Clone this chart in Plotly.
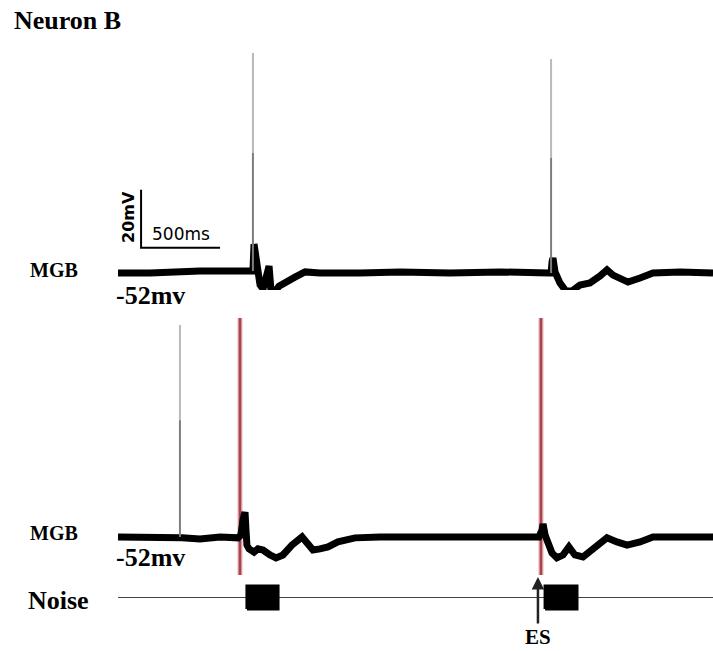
import plotly.graph_objects as go

# ---------------- data (time in ms, membrane potential in mV) ----------------
top_time_ms = [0, 203, 519, 772, 835, 848, 854, 861, 880, 899, 918, 937, 956, 968, 987,
               1019, 1063, 1120, 1184, 1278, 1532, 1785, 2101, 2418, 2728, 2741, 2747,
               2753, 2766, 2797, 2835, 2873, 2924, 2987, 3051, 3095, 3133, 3177, 3228,
               3304, 3386, 3557, 3766]
top_mv = [-52.2, -52.2, -51.5, -51.1, -51.5, -51.5, -51.5, -42.2, -48.4, -56.3, -57.7,
          -52.9, -49.8, -58.0, -59.1, -56.7, -55.6, -53.6, -51.8, -52.2, -52.2, -51.8,
          -52.2, -51.8, -52.2, -52.2, -48.4, -47.0, -51.8, -55.6, -58.4, -58.4, -56.3,
          -55.6, -53.2, -51.1, -52.9, -54.2, -55.3, -53.9, -52.2, -51.8, -52.2]
top_spike_time_ms = [854, 2741]
top_spike_base_mv = [-51.5, -52.2]
top_spike_split_mv = [-10.8, -12.5]
top_spike_peak_mv = [23.7, 21.6]

bottom_time_ms = [0, 203, 386, 392, 405, 519, 646, 759, 778, 791, 804, 810, 816, 829,
                  861, 886, 918, 962, 1000, 1044, 1101, 1165, 1196, 1234, 1278, 1329,
                  1392, 1500, 1658, 1911, 2291, 2664, 2684, 2690, 2703, 2722, 2747, 2778,
                  2816, 2854, 2892, 2943, 3006, 3051, 3095, 3158, 3222, 3304, 3386, 3494,
                  3766]
bottom_mv = [-52.0, -52.0, -52.0, -52.0, -52.3, -52.7, -52.0, -52.3, -51.3, -46.1,
             -43.4, -49.6, -54.8, -56.1, -57.2, -56.1, -56.5, -58.2, -59.2, -58.2,
             -54.8, -52.0, -53.7, -56.5, -56.1, -55.4, -53.7, -52.3, -52.0, -52.0,
             -51.7, -52.0, -49.6, -47.5, -51.3, -54.8, -57.5, -59.2, -58.2, -55.4,
             -58.2, -58.9, -56.1, -54.1, -52.3, -53.7, -54.8, -53.7, -52.0, -52.0,
             -52.0]
bottom_spike_time_ms = [392]
bottom_spike_base_mv = [-52.0]
bottom_spike_split_mv = [-11.7]
bottom_spike_peak_mv = [21.1]

es_time_ms = [772, 2677]
es_artifact_range_mv = [-65.1, 23.5]

noise_onset_ms = [816, 2703]
noise_duration_ms = [197, 202]
noise_amplitude = 0.66
trace_end_ms = 3766

scalebar_origin_ms = 146
scalebar_origin_mv = -43.5
scalebar_mv = 20
scalebar_ms = 500

es_arrow_time_ms = 2658
resting_label = "-52mv"

# ---------------- layout helpers (pixel geometry of the 713x651 canvas) ----------------
W, H = 713, 651
PX_PER_MS = 0.158
PX_PER_MV = 2.9
T0_PX = 118


def frac(py):
    return 1 - py / H


def mv_range(top_px, bot_px, base_px, base_mv):
    return [base_mv - (bot_px - base_px) / PX_PER_MV, base_mv + (base_px - top_px) / PX_PER_MV]


fig = go.Figure()


def spike_segments(times, lo, hi):
    xs, ys = [], []
    for t, a, b in zip(times, lo, hi):
        xs += [t, t, None]
        ys += [a, b, None]
    return xs, ys


TRACE_W = 7

# top trace
fig.add_trace(go.Scatter(x=top_time_ms, y=top_mv, mode="lines",
                         line=dict(color="black", width=TRACE_W), xaxis="x", yaxis="y"))
xs, ys = spike_segments(top_spike_time_ms, top_spike_base_mv, top_spike_split_mv)
fig.add_trace(go.Scatter(x=xs, y=ys, mode="lines", line=dict(color="#7d7d7d", width=2),
                         xaxis="x", yaxis="y"))
xs, ys = spike_segments(top_spike_time_ms, top_spike_split_mv, top_spike_peak_mv)
fig.add_trace(go.Scatter(x=xs, y=ys, mode="lines", line=dict(color="#b9b9b9", width=2),
                         xaxis="x", yaxis="y"))
# scale bar
fig.add_trace(go.Scatter(
    x=[scalebar_origin_ms, scalebar_origin_ms, scalebar_origin_ms + scalebar_ms],
    y=[scalebar_origin_mv + scalebar_mv, scalebar_origin_mv, scalebar_origin_mv],
    mode="lines", line=dict(color="black", width=2), xaxis="x", yaxis="y"))

# ES artifacts (bottom)
xs, ys = [], []
for t in es_time_ms:
    xs += [t, t, None]
    ys += [es_artifact_range_mv[0], es_artifact_range_mv[1], None]
fig.add_trace(go.Scatter(x=xs, y=ys, mode="lines", line=dict(color="#e3b0b4", width=5),
                         xaxis="x", yaxis="y2"))
fig.add_trace(go.Scatter(x=xs, y=ys, mode="lines", line=dict(color="#a8444c", width=2.5),
                         xaxis="x", yaxis="y2"))

# bottom trace
fig.add_trace(go.Scatter(x=bottom_time_ms, y=bottom_mv, mode="lines",
                         line=dict(color="black", width=TRACE_W), xaxis="x", yaxis="y2"))
xs, ys = spike_segments(bottom_spike_time_ms, bottom_spike_base_mv, bottom_spike_split_mv)
fig.add_trace(go.Scatter(x=xs, y=ys, mode="lines", line=dict(color="#7d7d7d", width=2),
                         xaxis="x", yaxis="y2"))
xs, ys = spike_segments(bottom_spike_time_ms, bottom_spike_split_mv, bottom_spike_peak_mv)
fig.add_trace(go.Scatter(x=xs, y=ys, mode="lines", line=dict(color="#b9b9b9", width=2),
                         xaxis="x", yaxis="y2"))

# noise stimulus
fig.add_trace(go.Scatter(x=[0, trace_end_ms], y=[0, 0], mode="lines",
                         line=dict(color="#444444", width=1), xaxis="x", yaxis="y3"))
for on, dur in zip(noise_onset_ms, noise_duration_ms):
    fig.add_trace(go.Scatter(
        x=[on, on, on + dur, on + dur, on],
        y=[-noise_amplitude, noise_amplitude, noise_amplitude, -noise_amplitude, -noise_amplitude],
        mode="lines", fill="toself", fillcolor="black",
        line=dict(color="black", width=3), xaxis="x", yaxis="y3"))

serif = "Liberation Serif"
ann = []


def label(text, px, py, size, family=serif, anchor="left", angle=0, weight="bold"):
    ann.append(dict(text=text, x=px / W, y=frac(py), xref="paper", yref="paper",
                    xanchor=anchor, yanchor="middle", showarrow=False, textangle=angle,
                    font=dict(family=family, size=size, color="black", weight=weight)))


label("Neuron B", 12, 20, 26)
label("MGB", 28, 270, 20)
label("MGB", 28, 533, 20)
label(resting_label, 114, 295, 26)
label(resting_label, 114, 557, 26)
label("Noise", 26, 600, 26)
label("20mV", 129, 217, 16, family="DejaVu Sans", anchor="center", angle=-90)
label("500ms", 181, 234, 17, family="DejaVu Sans", anchor="center", weight="normal")

ann.append(dict(text="<b>ES</b>", x=es_arrow_time_ms, xref="x", y=frac(577), yref="paper",
                showarrow=True, arrowhead=2, arrowsize=1, arrowwidth=2.5, arrowcolor="#222222",
                ax=0, ay=60, font=dict(family=serif, size=21, color="black")))

axis_off = dict(visible=False, showgrid=False, zeroline=False, fixedrange=True)
fig.update_layout(
    width=W, height=H, autosize=False,
    margin=dict(l=0, r=0, t=0, b=0),
    paper_bgcolor="white", plot_bgcolor="white",
    showlegend=False,
    xaxis=dict(range=[-T0_PX / PX_PER_MS, (W - T0_PX) / PX_PER_MS], domain=[0, 1], **axis_off),
    yaxis=dict(domain=[frac(310), frac(30)], range=mv_range(30, 310, 272.5, -52.0),
               anchor="x", **axis_off),
    yaxis2=dict(domain=[frac(580), frac(290)], range=mv_range(290, 580, 537, -52.0),
                anchor="x", **axis_off),
    yaxis3=dict(domain=[frac(615), frac(580)], range=[-1, 1], anchor="x", **axis_off),
    annotations=ann,
)

fig.write_html("out.html")
